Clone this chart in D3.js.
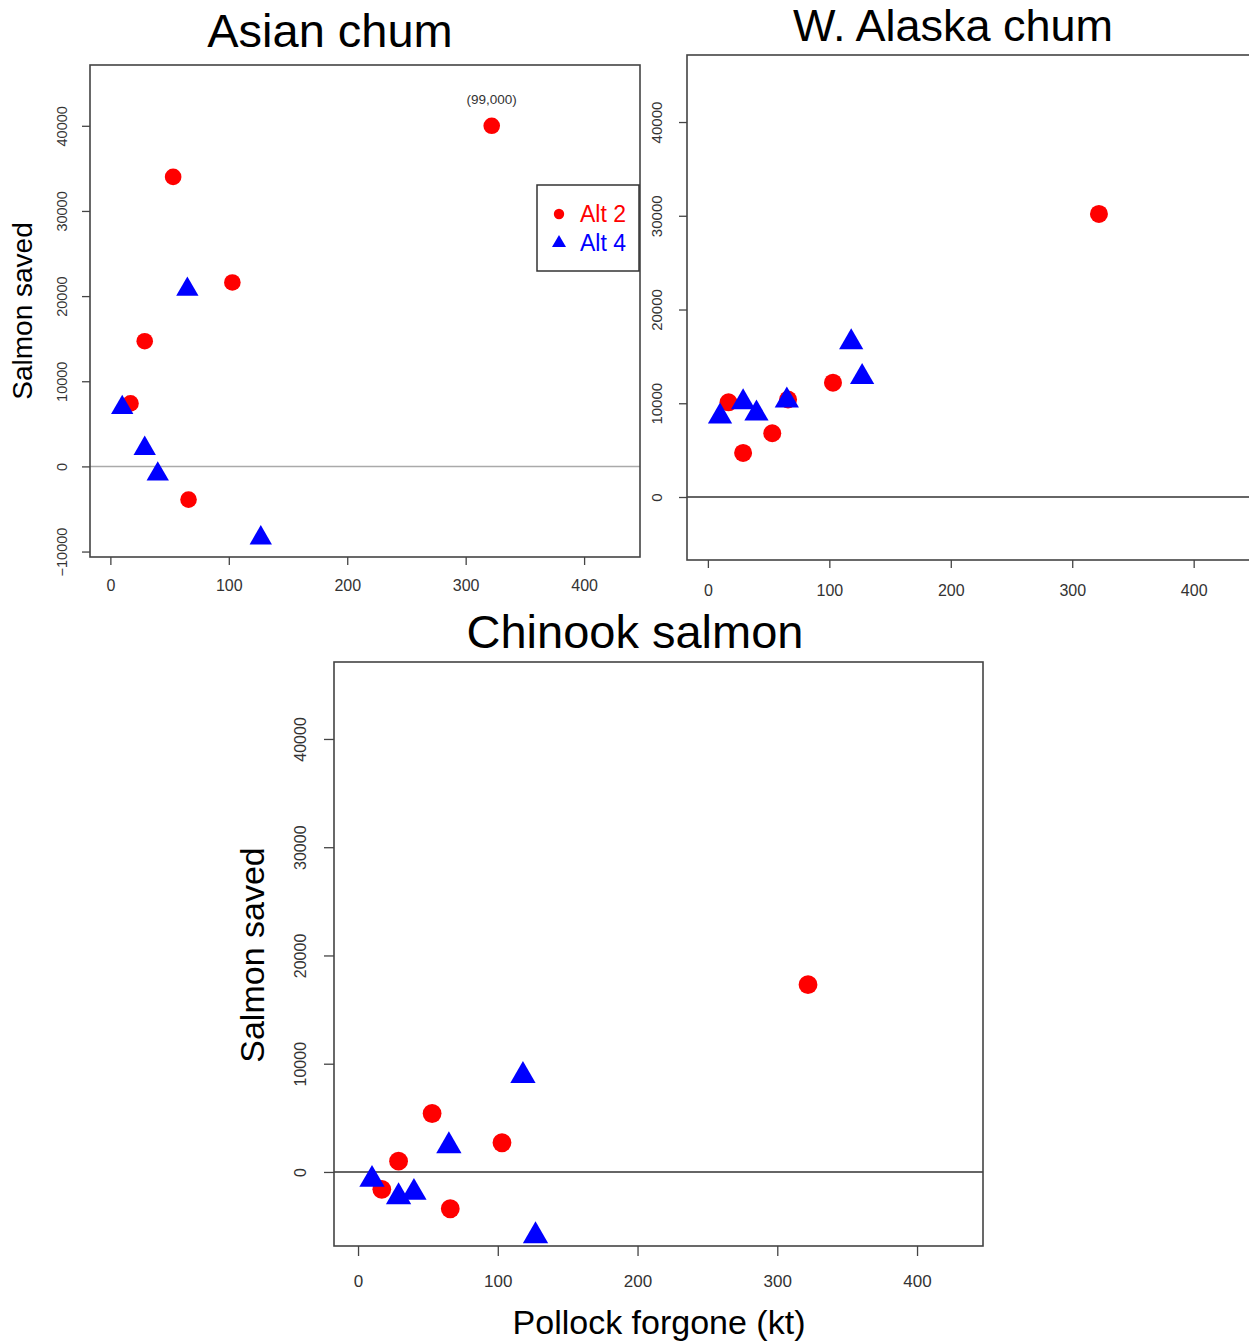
<!DOCTYPE html>
<html>
<head>
<meta charset="utf-8">
<script src="https://cdn.jsdelivr.net/npm/d3@7/dist/d3.min.js"></script>
<style>
  html, body { margin: 0; padding: 0; background: #fff; }
  svg { display: block; font-family: "Liberation Sans", Arial, Helvetica, sans-serif; }
</style>
</head>
<body>
<svg id="chart" width="1249" height="1341"></svg>
<script>
// pollock forgone (kt) for each alternative
const alt2Pollock = [17, 29, 53, 66, 103, 322];
const alt4Pollock = [10, 29, 40, 65, 118, 127];

// salmon saved, same order as the pollock arrays (null = not shown)
const asianAlt2 = [7400, 14700, 34000, -3900, 21600, 40000];
const asianAlt4 = [6900, 2100, -900, 20800, null, -8400];
const wakAlt2 = [10100, 4700, 6800, 10400, 12200, 30200];
const wakAlt4 = [8600, 10100, 8900, 10300, 16500, 12800];
const chinookAlt2 = [-1600, 1000, 5400, -3400, 2700, 17300];
const chinookAlt4 = [-700, -2300, -1900, 2400, 8900, -5900];

// the off-scale Asian chum point is drawn at 40000 and labelled
const asianNote = '(99,000)';

const xTicks = [0, 100, 200, 300, 400];
const yTicksAsian = [-10000, 0, 10000, 20000, 30000, 40000];
const yTicks = [0, 10000, 20000, 30000, 40000];

const seriesNames = ['Alt 2', 'Alt 4'];
const RED = '#ff0000', BLUE = '#0000ff';

const svg = d3.select('#chart');

function drawPanel(p) {
    const g = svg.append('g');
    const x = d3.scaleLinear().domain(p.xDomain).range([p.left, p.right]);
    const y = d3.scaleLinear().domain(p.yDomain).range([p.bottom, p.top]);

    //zero line
    g.append('line')
        .attr('x1', p.left).attr('x2', p.right)
        .attr('y1', y(0)).attr('y2', y(0))
        .attr('stroke', p.zeroColor).attr('stroke-width', 1.5);

    //box
    g.append('rect')
        .attr('x', p.left).attr('y', p.top)
        .attr('width', p.right - p.left).attr('height', p.bottom - p.top)
        .attr('fill', 'none').attr('stroke', '#444').attr('stroke-width', 1.6);

    //axes (R style: ticks outside, no extra line)
    const xAxis = d3.axisBottom(x).tickValues(xTicks).tickSize(p.tick).tickPadding(p.xPad);
    const gx = g.append('g').attr('transform', `translate(0,${p.bottom})`).call(xAxis);
    gx.select('.domain').remove();
    gx.selectAll('line').attr('stroke', '#444').attr('stroke-width', 1.3);
    gx.selectAll('text').attr('font-size', p.tickFont).attr('fill', '#333')
        .attr('font-family', null);

    const yAxis = d3.axisLeft(y).tickValues(p.yTicks).tickSize(p.tick).tickFormat(d3.format('d'));
    const gy = g.append('g').attr('transform', `translate(${p.left},0)`).call(yAxis);
    gy.select('.domain').remove();
    gy.selectAll('line').attr('stroke', '#444').attr('stroke-width', 1.3);
    gy.selectAll('text')
        .attr('font-size', p.yTickFont).attr('fill', '#333').attr('font-family', null)
        .attr('x', null).attr('dy', null)
        .attr('text-anchor', 'middle')
        .attr('transform', `translate(${-p.yPad},0) rotate(-90)`)
        .attr('dy', '0.35em');

    //points
    const pts2 = alt2Pollock.map((v, i) => ({ x: v, y: p.alt2[i] })).filter(d => d.y != null);
    const pts4 = alt4Pollock.map((v, i) => ({ x: v, y: p.alt4[i] })).filter(d => d.y != null);

    g.selectAll('.c').data(pts2).enter().append('circle')
        .attr('cx', d => x(d.x)).attr('cy', d => y(d.y))
        .attr('r', p.r).attr('fill', RED);

    const tri = d3.symbol().type(d3.symbolTriangle).size(Math.PI * p.r * p.r);
    g.selectAll('.t').data(pts4).enter().append('path')
        .attr('d', tri)
        .attr('transform', d => `translate(${x(d.x)},${y(d.y)})`)
        .attr('fill', BLUE);

    //title
    g.append('text')
        .attr('x', p.titleX).attr('y', p.titleY)
        .attr('text-anchor', 'middle').attr('font-size', p.titleFont || 47).attr('fill', '#000')
        .text(p.title);

    return { g, x, y };
}

// Asian chum
const a = drawPanel({
    title: 'Asian chum', titleX: 330, titleY: 47,
    left: 90, right: 640, top: 65, bottom: 557,
    xDomain: [-17.2, 447.2], yDomain: [-10640, 47140],
    yTicks: yTicksAsian, alt2: asianAlt2, alt4: asianAlt4,
    zeroColor: '#aaaaaa', r: 8.3, tick: 8, xPad: 15, yPad: 28,
    tickFont: 16, yTickFont: 14.5
});
a.g.append('text')
    .attr('x', a.x(alt2Pollock[5])).attr('y', a.y(asianAlt2[5]) - 22)
    .attr('text-anchor', 'middle').attr('font-size', 13.5).attr('fill', '#333')
    .text(asianNote);
a.g.append('text')
    .attr('transform', 'translate(32,311) rotate(-90)')
    .attr('text-anchor', 'middle').attr('font-size', 28).attr('fill', '#000')
    .text('Salmon saved');

//legend
const lg = a.g.append('g');
lg.append('rect').attr('x', 537).attr('y', 185).attr('width', 102).attr('height', 86)
    .attr('fill', '#fff').attr('stroke', '#333').attr('stroke-width', 1.5);
seriesNames.forEach((name, i) => {
    const cy = 214 + i * 29;
    if (i === 0) {
        lg.append('circle').attr('cx', 559).attr('cy', cy).attr('r', 5.2).attr('fill', RED);
    } else {
        lg.append('path').attr('d', d3.symbol().type(d3.symbolTriangle).size(Math.PI * 5.2 * 5.2))
            .attr('transform', `translate(559,${cy})`).attr('fill', BLUE);
    }
    lg.append('text').attr('x', 580).attr('y', cy + 8)
        .attr('font-size', 23).attr('fill', i === 0 ? RED : BLUE)
        .text(name);
});

// W. Alaska chum
drawPanel({
    title: 'W. Alaska chum', titleX: 953, titleY: 41, titleFont: 45,
    left: 687, right: 1251, top: 55, bottom: 560,
    xDomain: [-17.2, 447.2], yDomain: [-6720, 47150],
    yTicks: yTicks, alt2: wakAlt2, alt4: wakAlt4,
    zeroColor: '#333333', r: 9, tick: 8, xPad: 17, yPad: 30,
    tickFont: 16, yTickFont: 15
});

// Chinook salmon
const c = drawPanel({
    title: 'Chinook salmon', titleX: 635, titleY: 648,
    left: 334, right: 983, top: 662, bottom: 1246,
    xDomain: [-17.2, 447.2], yDomain: [-6840, 47110],
    yTicks: yTicks, alt2: chinookAlt2, alt4: chinookAlt4,
    zeroColor: '#333333', r: 9.4, tick: 10, xPad: 19, yPad: 34,
    tickFont: 17, yTickFont: 16
});
c.g.append('text')
    .attr('transform', 'translate(264,955) rotate(-90)')
    .attr('text-anchor', 'middle').attr('font-size', 34).attr('fill', '#000')
    .text('Salmon saved');
c.g.append('text')
    .attr('x', 659).attr('y', 1334)
    .attr('text-anchor', 'middle').attr('font-size', 34).attr('fill', '#000')
    .text('Pollock forgone (kt)');
</script>
</body>
</html>
